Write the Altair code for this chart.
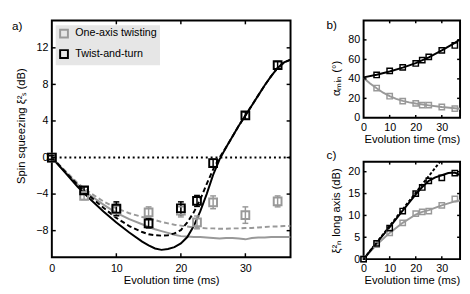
import altair as alt
import pandas as pd

FONT = "Liberation Sans"
GRAY = "#999999"

# ---------------- panel a : spin squeezing ----------------
t_pts = [0, 5, 10, 15, 20, 22.5, 25, 30, 35]
oat_sq = [0, -4.2, -5.7, -6.0, -5.8, -7.1, -4.9, -6.3, -4.8]
oat_err = [0.2, 0.4, 0.7, 0.6, 0.7, 0.7, 0.7, 0.9, 0.6]
tnt_sq = [0, -3.6, -5.6, -7.2, -5.55, -4.75, -0.6, 4.6, 10.1]
tnt_err = [0.2, 0.4, 0.75, 0.5, 0.7, 0.6, 0.4, 0.4, 0.4]

t_th = [0, 2, 4, 6, 8, 10, 12, 14, 15, 16, 17, 18, 19, 20, 21, 22, 23, 24, 25,
        26, 27, 28, 29, 30, 31, 32, 33, 34, 35, 36, 37]
tnt_solid = [0, -1.6, -3.2, -4.6, -5.9, -7.1, -8.2, -9.2, -9.6, -9.95, -10.1, -10.0,
             -9.8, -9.4, -8.7, -7.5, -5.9, -4.0, -1.9, -0.2, 1.1, 2.3, 3.5, 4.6, 5.7,
             6.8, 7.9, 8.9, 9.8, 10.4, 10.7]
tnt_dashed = [0, -1.5, -3.0, -4.3, -5.5, -6.6, -7.5, -8.15, -8.4, -8.5, -8.55, -8.5,
              -8.3, -7.95, -7.1, -6.0, -4.6, -2.9, -1.3, 0.0, 1.1, 2.3, 3.5, 4.6, 5.7,
              6.8, 7.9, 8.9, 9.8, 10.4, 10.7]
oat_solid = [0, -1.5, -2.95, -4.15, -5.15, -6.05, -6.75, -7.3, -7.6, -7.85, -8.05,
             -8.25, -8.45, -8.6, -8.65, -8.7, -8.7, -8.75, -8.8, -8.85, -8.8, -8.8,
             -8.85, -8.95, -8.8, -8.75, -8.75, -8.7, -8.7, -8.7, -8.7]
oat_dashed = [0, -1.4, -2.8, -3.9, -4.8, -5.55, -6.1, -6.5, -6.65, -6.85, -7.05, -7.2,
              -7.35, -7.45, -7.55, -7.65, -7.7, -7.75, -7.75, -7.8, -7.8, -7.75, -7.75,
              -7.7, -7.7, -7.65, -7.6, -7.55, -7.55, -7.5, -7.5]
zero_line = [0]
series_names = ["One-axis twisting", "Twist-and-turn"]

# ---------------- panel b : alpha_min ----------------
tb_pts = [5, 10, 15, 20, 22.5, 25, 30, 35]
alpha_tnt = [44.0, 48.1, 51.8, 55.8, 59.2, 62.6, 69.3, 74.3]
alpha_oat = [30.6, 22.2, 17.2, 14.8, 13.1, 13.1, 11.1, 9.4]
tb_tnt_th = [0, 5, 10, 15, 20, 25, 30, 35, 37]
alpha_tnt_th = [41.5, 44.2, 47.6, 51.6, 56.2, 62.0, 69.3, 77.0, 80.5]
tb_oat_th = [0, 2.5, 5, 7.5, 10, 12.5, 15, 17.5, 20, 25, 30, 35, 37]
alpha_oat_th = [41, 35.3, 30.3, 25.8, 22.3, 19.5, 17.4, 15.9, 14.7, 12.8, 11.2, 9.9, 9.4]

# ---------------- panel c : xi_N long axis ----------------
tc_pts = [0, 5, 10, 15, 20, 22.5, 25, 30, 35]
xin_tnt = [0, 3.6, 7.1, 11.0, 15.0, 16.4, 17.9, 18.6, 19.7]
xin_oat = [0, 3.3, 6.0, 8.3, 10.4, 10.8, 11.0, 12.3, 13.8]
tc_tnt_th = [0, 5, 10, 15, 20, 22.5, 25, 27.5, 30, 32.5, 35, 37]
xin_tnt_th = [0, 3.7, 7.3, 11.1, 14.8, 16.5, 17.9, 18.7, 19.2, 19.7, 19.8, 19.2]
tc_oat_th = [0, 5, 10, 15, 20, 22.5, 25, 30, 35, 37]
xin_oat_th = [0, 3.3, 6.0, 8.3, 10.2, 10.8, 11.2, 12.3, 13.2, 13.4]
tc_lin = [0, 30]
xin_lin = [0, 22.8]

x_ticks = [0, 10, 20, 30]
ya_ticks = [-8, -4, 0, 4, 8, 12]
yb_ticks = [0, 20, 40, 60, 80]
yc_ticks = [0, 5, 10, 15, 20]


def axis(values, title, tpad, lpad=4, **kw):
    return alt.Axis(values=values, tickCount=20, title=title, ticks=False, domain=False,
                    grid=False, labelFont=FONT, labelFontSize=11, labelColor="black",
                    titleFont=FONT, titleFontSize=11.5, titleColor="black",
                    titleFontWeight="normal", labelPadding=lpad, titlePadding=tpad,
                    labelFlush=False, labelOverlap=False, **kw)


def X(field, scale, ax=None):
    return alt.X(field, scale=scale, axis=ax) if ax is not None else alt.X(field, scale=scale)


def Y(field, scale, ax=None):
    return alt.Y(field, scale=scale, axis=ax) if ax is not None else alt.Y(field, scale=scale)


def line(t, v, xs, ys, color, width=2, dash=None, xaxis=None, yaxis=None):
    df = pd.DataFrame({"t": t, "v": v})
    kw = dict(color=color, strokeWidth=width, clip=True)
    if dash:
        kw["strokeDash"] = dash
    return alt.Chart(df).mark_line(**kw).encode(
        x=X("t:Q", xs, xaxis), y=Y("v:Q", ys, yaxis))


def squares(t, v, xs, ys, color, size=30, sw=1.5):
    df = pd.DataFrame({"t": t, "v": v})
    return alt.Chart(df).mark_point(shape="square", filled=False, size=size,
                                    strokeWidth=sw, color=color, opacity=1).encode(
        x=X("t:Q", xs), y=Y("v:Q", ys))


def errbars(t, v, e, xs, ys, color):
    df = pd.DataFrame({"t": t, "lo": [a - b for a, b in zip(v, e)],
                       "hi": [a + b for a, b in zip(v, e)]})
    rule = alt.Chart(df).mark_rule(strokeWidth=1.5, color=color).encode(
        x=X("t:Q", xs), y=Y("lo:Q", ys), y2="hi:Q")
    lo = alt.Chart(df).mark_tick(orient="horizontal", size=6, thickness=1.5,
                                 color=color, opacity=1).encode(
        x=X("t:Q", xs), y=Y("lo:Q", ys))
    hi = alt.Chart(df).mark_tick(orient="horizontal", size=6, thickness=1.5,
                                 color=color, opacity=1).encode(
        x=X("t:Q", xs), y=Y("hi:Q", ys))
    return [rule, lo, hi]


def inward_ticks(xvals, yvals, xs, ys, w, h, L=4):
    xd = pd.DataFrame({"v": xvals})
    yd = pd.DataFrame({"v": yvals})
    r = dict(color="black", strokeWidth=1.5)
    return [
        alt.Chart(xd).mark_rule(**r).encode(x=X("v:Q", xs), y=alt.value(h), y2=alt.value(h - L)),
        alt.Chart(xd).mark_rule(**r).encode(x=X("v:Q", xs), y=alt.value(0), y2=alt.value(L)),
        alt.Chart(yd).mark_rule(**r).encode(y=Y("v:Q", ys), x=alt.value(0), x2=alt.value(L)),
        alt.Chart(yd).mark_rule(**r).encode(y=Y("v:Q", ys), x=alt.value(w), x2=alt.value(w - L)),
    ]


def label(text, dx, dy):
    return alt.Chart(pd.DataFrame({"s": [text]})).mark_text(
        font=FONT, fontSize=12, align="left", baseline="middle", color="black"
    ).encode(text="s:N", x=alt.value(dx), y=alt.value(dy))


# ---------------- build panel a ----------------
WA, HA = 245, 243
xa = alt.Scale(domain=[0, 37], nice=False, zero=False)
ya = alt.Scale(domain=[-10.9, 15], nice=False, zero=False)

pts = pd.DataFrame({
    "t": t_pts + t_pts,
    "v": oat_sq + tnt_sq,
    "series": [series_names[0]] * len(t_pts) + [series_names[1]] * len(t_pts),
})
cscale = alt.Scale(domain=series_names, range=[GRAY, "#000000"])

zero_rule = alt.Chart(pd.DataFrame({"v": zero_line})).mark_rule(
    color="black", strokeWidth=2, strokeDash=[2, 3]
).encode(y=Y("v:Q", ya))

a_gs = line(t_th, oat_solid, xa, ya, GRAY,
            xaxis=axis(x_ticks, "Evolution time (ms)", 1, lpad=6),
            yaxis=axis(ya_ticks, "Spin squeezing ξ²ₛ (dB)", 10, titleY=108))
a_gd = line(t_th, oat_dashed, xa, ya, GRAY, dash=[5, 3])
a_bd = line(t_th, tnt_dashed, xa, ya, "black", dash=[5, 3])
a_bs = line(t_th, tnt_solid, xa, ya, "black")

a_pts = alt.Chart(pts).mark_point(shape="square", filled=False, size=64, strokeWidth=2,
                                  opacity=1).encode(
    x=X("t:Q", xa), y=Y("v:Q", ya),
    color=alt.Color("series:N", scale=cscale, legend=alt.Legend(
        orient="none", legendX=4, legendY=5, title=None, fillColor="#e6e6e6",
        padding=3, labelFont=FONT, labelFontSize=11, labelColor="black",
        symbolType="square", symbolSize=64, symbolStrokeWidth=2, rowPadding=4,
        labelOffset=6)))

panel_a = alt.layer(
    a_gs, zero_rule, a_gd, a_bd, a_bs,
    *errbars(t_pts, oat_sq, oat_err, xa, ya, GRAY),
    *errbars(t_pts, tnt_sq, tnt_err, xa, ya, "black"),
    a_pts,
    *inward_ticks(x_ticks[1:], ya_ticks, xa, ya, WA, HA),
    label("a)", -41, 6),
).properties(width=WA, height=HA)

# ---------------- build panel b ----------------
WB, HB = 99, 100
xb = alt.Scale(domain=[0, 37], nice=False, zero=False)
yb = alt.Scale(domain=[0, 100], nice=False, zero=False)
panel_b = alt.layer(
    line(tb_oat_th, alpha_oat_th, xb, yb, GRAY,
         xaxis=axis(x_ticks, "Evolution time (ms)", 1),
         yaxis=axis(yb_ticks, "αₘᵢₙ (°)", 6, titleY=59)),
    line(tb_tnt_th, alpha_tnt_th, xb, yb, "black"),
    squares(tb_pts, alpha_oat, xb, yb, GRAY),
    squares(tb_pts, alpha_tnt, xb, yb, "black"),
    *inward_ticks(x_ticks[1:], yb_ticks[1:], xb, yb, WB, HB, L=3),
    label("b)", -38, 5),
).properties(width=WB, height=HB)

# ---------------- build panel c ----------------
HC = 100
xc = alt.Scale(domain=[0, 37], nice=False, zero=False)
yc = alt.Scale(domain=[0, 22.3], nice=False, zero=False)
panel_c = alt.layer(
    line(tc_oat_th, xin_oat_th, xc, yc, GRAY,
         xaxis=axis(x_ticks, "Evolution time (ms)", 1),
         yaxis=axis(yc_ticks, "ξ²ₙ long axis (dB)", 7)),
    line(tc_lin, xin_lin, xc, yc, "black", dash=[3, 2]),
    line(tc_tnt_th, xin_tnt_th, xc, yc, "black"),
    squares(tc_pts, xin_oat, xc, yc, GRAY),
    squares(tc_pts, xin_tnt, xc, yc, "black"),
    *inward_ticks(x_ticks[1:], yc_ticks[1:], xc, yc, WB, HC, L=3),
    label("c)", -38, -7),
).properties(width=WB, height=HC)

right = alt.vconcat(panel_b, panel_c, spacing=45, bounds="flush")
chart = alt.hconcat(panel_a, right, spacing=75, bounds="flush").resolve_scale(
    color="independent"
).properties(
    padding={"left": 3, "top": 7, "right": 0, "bottom": 0}
).configure(font=FONT).configure_view(stroke="black", strokeWidth=2)

chart.save("out.html", embed_options={"renderer": "svg", "actions": False})
